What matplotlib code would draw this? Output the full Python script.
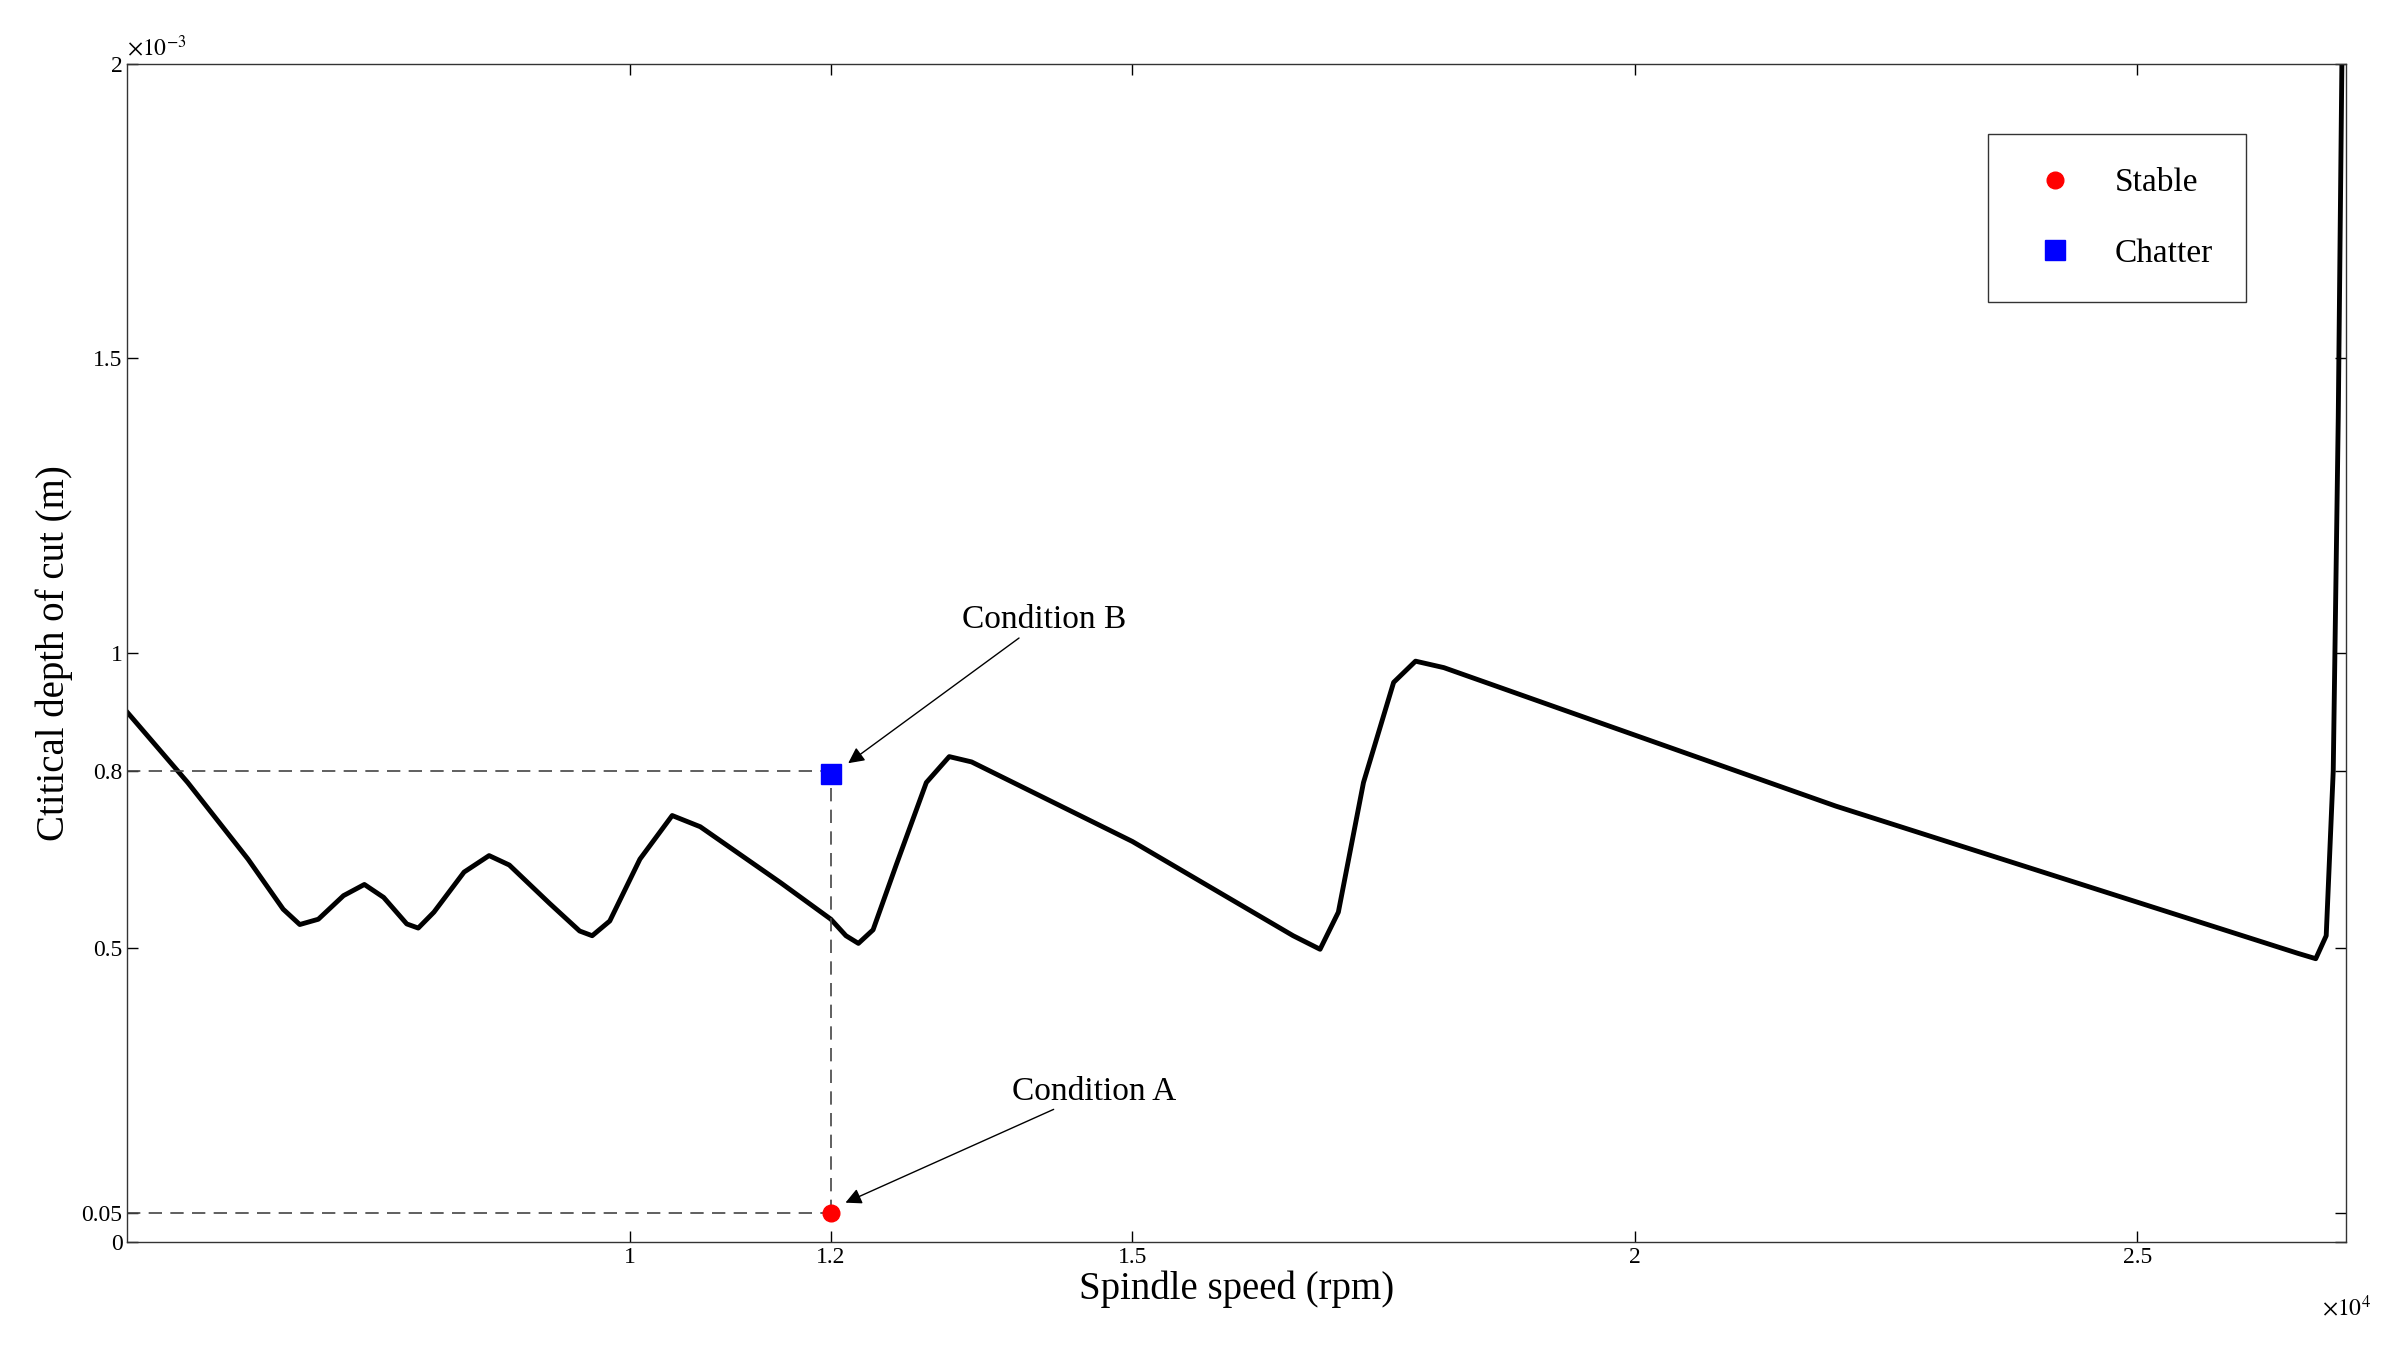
import numpy as np
import matplotlib
matplotlib.use("Agg")
import matplotlib.pyplot as plt

plt.rcParams['font.family'] = ['Liberation Serif', 'DejaVu Serif']
plt.rcParams['mathtext.fontset'] = 'stix'

# curve (rpm, depth in mm*1e-3 m)
speed = [5000, 5600, 6200, 6550, 6715, 6900, 7150, 7358, 7550, 7780, 7894, 8050, 8350, 8599,
         8800, 9200, 9500, 9625, 9800, 10100, 10421, 10700, 11500, 12000, 12150, 12274, 12420,
         12650, 12950, 13178, 13400, 15000, 16600, 16868, 17050, 17300, 17600, 17818,
         18100, 22000, 26600, 26776, 26880, 26950, 27000, 27036]
depth = [0.899, 0.780, 0.650, 0.565, 0.539, 0.548, 0.588, 0.607, 0.585, 0.540, 0.533, 0.560,
         0.628, 0.656, 0.640, 0.575, 0.528, 0.520, 0.545, 0.650, 0.724, 0.705, 0.610, 0.548,
         0.520, 0.507, 0.530, 0.640, 0.780, 0.824, 0.815, 0.680, 0.520, 0.497, 0.560, 0.780,
         0.950, 0.986, 0.975, 0.740, 0.490, 0.481, 0.520, 0.800, 1.400, 2.000]

stable_pt = (12000, 0.05)
chatter_pt = (12000, 0.795)

fig = plt.figure(figsize=(24.04, 13.56), dpi=100)
ax = fig.add_axes([0.053, 0.084, 0.923, 0.869])
d = np.array(depth) * 1e-3
ax.plot(speed, d, color='black', lw=3.5)

ax.plot([5000, 12000], [0.8e-3, 0.8e-3], '--', color='#444444', lw=1.2, dashes=(8, 5))
ax.plot([5000, 12000], [0.05e-3, 0.05e-3], '--', color='#444444', lw=1.2, dashes=(8, 5))
ax.plot([12000, 12000], [0.05e-3, 0.8e-3], '--', color='#444444', lw=1.2, dashes=(8, 5))

ax.plot(stable_pt[0], stable_pt[1] * 1e-3, 'o', color='red', ms=12, label='Stable', ls='none')
ax.plot(chatter_pt[0], chatter_pt[1] * 1e-3, 's', color='blue', ms=14, label='Chatter', ls='none')

ax.annotate('Condition B', xy=(12150, 0.81e-3), xytext=(13300, 1.03e-3), fontsize=24,
            ha='left', va='bottom',
            arrowprops=dict(arrowstyle='-|>', color='black', lw=1, shrinkA=0, shrinkB=2))
ax.annotate('Condition A', xy=(12120, 0.065e-3), xytext=(13800, 0.23e-3), fontsize=24,
            ha='left', va='bottom',
            arrowprops=dict(arrowstyle='-|>', color='black', lw=1, shrinkA=0, shrinkB=2))

ax.set_xlim(5000, 27080)
ax.set_ylim(0, 2e-3)
ax.set_xticks([10000, 12000, 15000, 20000, 25000])
ax.set_xticklabels(['1', '1.2', '1.5', '2', '2.5'])
ax.set_yticks([0, 0.05e-3, 0.5e-3, 0.8e-3, 1e-3, 1.5e-3, 2e-3])
ax.set_yticklabels(['0', '0.05', '0.5', '0.8', '1', '1.5', '2'])
ax.tick_params(direction='in', top=True, right=True, labelsize=17, length=8, width=1)
for s in ax.spines.values():
    s.set_linewidth(1)
    s.set_color('#333333')
ax.text(0.0, 1.003, r'$\times10^{-3}$', transform=ax.transAxes, fontsize=17, ha='left', va='bottom')
ax.text(1.0, -0.045, r'$\times10^{4}$', transform=ax.transAxes, fontsize=17, ha='center', va='top')
ax.set_xlabel('Spindle speed (rpm)', fontsize=28, labelpad=2)
ax.set_ylabel('Ctitical depth of cut (m)', fontsize=28, labelpad=6)

leg = ax.legend(loc='upper right', bbox_to_anchor=(0.955, 0.94), fontsize=24, frameon=True,
                fancybox=False, edgecolor='black', borderpad=1.0, labelspacing=1.2,
                handletextpad=0.8, borderaxespad=0)
leg.get_frame().set_linewidth(1)

fig.savefig('out.png', dpi=100)
